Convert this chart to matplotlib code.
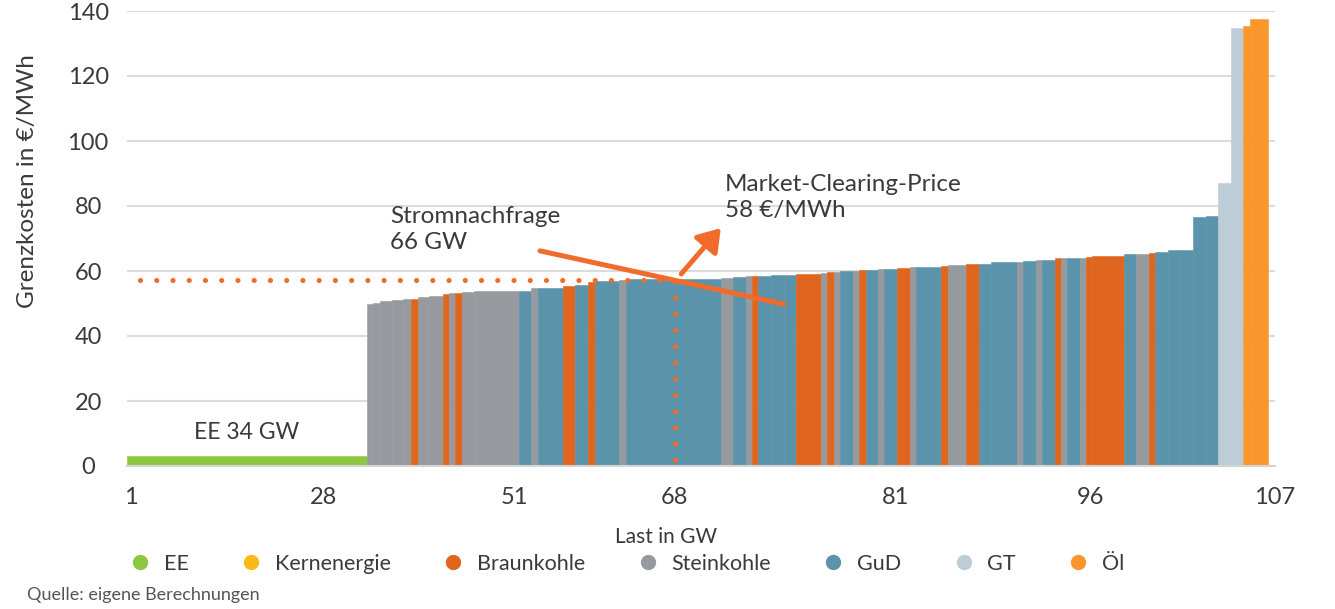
import matplotlib
matplotlib.use("Agg")
import matplotlib.pyplot as plt
from matplotlib.lines import Line2D
import numpy as np

plt.rcParams['font.family'] = ['Lato', 'DejaVu Sans']

# Fuel types and their colours
fuel_types = ['EE', 'Kernenergie', 'Braunkohle', 'Steinkohle', 'GuD', 'GT', 'Öl']
fuel_colors = ['#8dc63f', '#fbb917', '#e0661f', '#96999e', '#5b93aa', '#bccdd8', '#fa962c']

# Merit order: plant blocks sorted by marginal cost
block_type = ['EE',
              'Steinkohle', 'Steinkohle', 'Steinkohle', 'Steinkohle', 'Steinkohle', 'Braunkohle',
              'Steinkohle', 'Steinkohle', 'Braunkohle', 'Steinkohle', 'Braunkohle', 'Steinkohle',
              'Steinkohle', 'GuD', 'Steinkohle', 'GuD', 'Braunkohle', 'GuD', 'Braunkohle', 'GuD',
              'Steinkohle', 'GuD', 'Steinkohle', 'GuD', 'Steinkohle', 'Braunkohle', 'GuD', 'GuD',
              'GuD', 'Braunkohle', 'Steinkohle', 'Braunkohle', 'Steinkohle', 'GuD', 'Steinkohle',
              'Braunkohle', 'GuD', 'Steinkohle', 'GuD', 'Braunkohle', 'Steinkohle', 'GuD',
              'Braunkohle', 'Steinkohle', 'Braunkohle', 'GuD', 'GuD', 'Steinkohle', 'GuD',
              'Steinkohle', 'GuD', 'Braunkohle', 'Steinkohle', 'GuD', 'Steinkohle', 'Braunkohle',
              'Braunkohle', 'GuD', 'Steinkohle', 'Braunkohle', 'GuD', 'GuD', 'GuD', 'GuD', 'GuD',
              'GT', 'GT', 'Öl', 'Öl']
block_gw = [22.4,
            0.56, 0.69, 1.12, 0.99, 0.78, 0.68,
            1.03, 1.24, 0.62, 0.56, 0.62, 1.15,
            4.19, 1.15, 0.62, 2.33, 1.18, 1.17, 0.62, 2.33,
            0.59, 8.89, 1.15, 1.15, 0.62, 0.56, 1.24, 1.16,
            1.12, 2.39, 0.56, 0.62, 0.59, 1.18, 0.56,
            0.62, 1.15, 0.56, 1.21, 1.21, 0.59, 2.33,
            0.62, 1.71, 1.18, 1.21, 2.36, 0.62, 1.15,
            0.62, 1.15, 0.56, 0.62, 1.16, 0.62, 0.54,
            2.95, 1.17, 1.16, 0.56, 1.24, 1.21, 1.18, 1.15, 1.18,
            1.15, 1.18, 0.62, 1.71]
block_cost = [3.0,
              49.8, 50.2, 50.7, 51.0, 51.3, 51.3,
              51.9, 52.4, 52.9, 53.1, 53.1, 53.5,
              53.8, 53.9, 54.7, 54.9, 55.5, 55.7, 56.5, 57.0,
              57.2, 57.5, 57.8, 58.1, 58.6, 58.6, 58.5, 58.7,
              58.9, 59.2, 59.5, 59.8, 59.8, 60.0, 60.1,
              60.4, 60.3, 60.7, 60.7, 61.0, 61.3, 61.2,
              61.6, 61.9, 62.2, 62.3, 62.7, 62.8, 63.1,
              63.5, 63.3, 64.0, 64.0, 63.9, 64.1, 64.4,
              64.7, 65.3, 65.3, 65.6, 65.9, 66.6, 66.5, 76.6, 76.9,
              87.2, 134.8, 135.5, 137.5]

x_tick_labels = ['1', '28', '51', '68', '81', '96', '107']
y_ticks = [0, 20, 40, 60, 80, 100, 120, 140]

clearing_price = 57.2          # €/MWh level of the dotted price line
demand_pos = 51.2              # position of the demand marker on the load axis
demand_curve_x = [38.6, 61.4]
demand_curve_y = [66.2, 49.8]

text_color = '#3a3a3a'
accent = '#f26b2a'
grid_color = '#dcdcdc'

fig = plt.figure(figsize=(13.35, 6.09), dpi=100)
ax = fig.add_axes([127 / 1335, 1 - 466 / 609, 1148 / 1335, 455 / 609])

color_map = dict(zip(fuel_types, fuel_colors))
colors = [color_map[t] for t in block_type]
lefts = np.concatenate([[0.0], np.cumsum(block_gw)[:-1]])
ax.bar(lefts, block_cost, width=block_gw, align='edge', color=colors,
       edgecolor=colors, linewidth=0.4, zorder=2)

ax.set_xlim(0, 107)
ax.set_ylim(0, 140)

# grid and frame
ax.set_yticks(y_ticks)
ax.yaxis.grid(True, color=grid_color, linewidth=1.5, zorder=0)
ax.set_axisbelow(True)
for side in ['left', 'right', 'top']:
    ax.spines[side].set_visible(False)
ax.spines['bottom'].set_color('#d4d4d4')
ax.spines['bottom'].set_linewidth(1.5)
ax.spines['bottom'].set_zorder(3)

tick_positions = [0.4, 18.4, 36.2, demand_pos, 71.8, 90.1, 107.3]
ax.set_xticks(tick_positions)
ax.set_xticklabels(x_tick_labels)
ax.tick_params(axis='x', length=0, pad=15, labelsize=17, labelcolor=text_color)
ax.tick_params(axis='y', length=0, pad=28, labelsize=17, labelcolor=text_color)
for lbl in ax.get_yticklabels():
    lbl.set_horizontalalignment('center')

ax.set_ylabel('Grenzkosten in €/MWh', fontsize=17.5, color=text_color)
ax.yaxis.set_label_coords(-0.0775, 0.626)
ax.set_xlabel('Last in GW', fontsize=15, color=text_color)
ax.xaxis.set_label_coords(0.470, -0.134)

# price and demand markers
dot_style = (0, (0.01, 3.15))
ax.plot([1.2, demand_pos], [clearing_price, clearing_price], color=accent,
        linewidth=3.7, linestyle=dot_style, dash_capstyle='round', zorder=4)
ax.plot([demand_pos, demand_pos], [1.8, clearing_price], color=accent,
        linewidth=3.7, linestyle=dot_style, dash_capstyle='round', zorder=4)
ax.plot(demand_curve_x, demand_curve_y, color=accent, linewidth=3.6,
        solid_capstyle='round', zorder=5)
ax.annotate('', xy=(55.5, 73.2), xytext=(51.8, 59.1),
            arrowprops=dict(arrowstyle='-|>,head_length=0.6,head_width=0.4',
                            mutation_scale=22, lw=3.6, color=accent,
                            shrinkA=0, shrinkB=0, capstyle='round'),
            zorder=5)

ax.text(11.2, 10.2, 'EE 34 GW', fontsize=16.5, color=text_color, ha='center', va='center')
ax.text(24.6, 72.8, 'Stromnachfrage\n66 GW', fontsize=17.5, color=text_color,
        ha='left', va='center', linespacing=1.3)
ax.text(55.9, 82.5, 'Market-Clearing-Price\n58 €/MWh', fontsize=17.5, color=text_color,
        ha='left', va='center', linespacing=1.3)

# legend
handles = [Line2D([], [], linestyle='none', marker='o', markersize=10,
                  markerfacecolor=c, markeredgecolor=c) for c in fuel_colors]
fig.legend(handles, fuel_types, loc='center left', ncol=7,
           bbox_to_anchor=(112 / 1335, 1 - 564 / 609), frameon=False,
           fontsize=15.5, labelcolor=text_color, handlelength=0.8,
           handletextpad=0.7, columnspacing=2.5)

fig.text(27 / 1335, 1 - 595 / 609, 'Quelle: eigene Berechnungen', fontsize=13,
         color='#555555', ha='left', va='center')

fig.savefig('out.png', dpi=100)
